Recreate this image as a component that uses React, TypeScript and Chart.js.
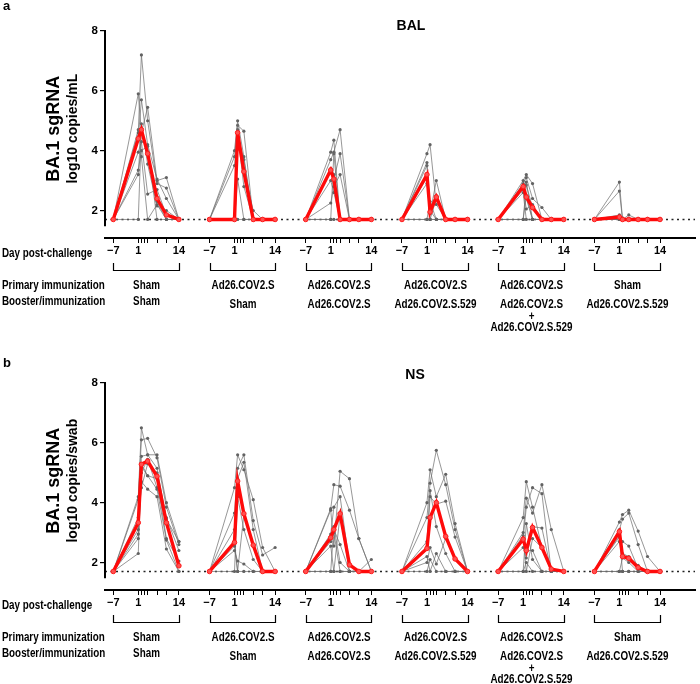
import React, { useEffect, useRef } from 'react';
import { Chart, registerables } from 'chart.js';

Chart.register(...registerables);

// ---------------- data ----------------
const SAMPLE_DAYS = [-7, 1, 2, 4, 7, 10, 14];
const AXIS_TICK_DAYS = [-7, 1, 2, 3, 4, 7, 10, 14];
const LABELED_TICK_DAYS = [-7, 1, 14];
const Y_TICKS = [2, 4, 6, 8];
const LOD = 1.7;

const PRIMARY = ['Sham', 'Ad26.COV2.S', 'Ad26.COV2.S', 'Ad26.COV2.S', 'Ad26.COV2.S', 'Sham'];
const BOOSTER = [
  ['Sham'],
  ['Sham'],
  ['Ad26.COV2.S'],
  ['Ad26.COV2.S.529'],
  ['Ad26.COV2.S', '+', 'Ad26.COV2.S.529'],
  ['Ad26.COV2.S.529'],
];

// BAL, log10 copies/mL, one row per animal at SAMPLE_DAYS
const BAL_SHAM_SHAM = [
  [1.7, 5.9, 4.6, 5.45, 3.0, 3.1, 1.7],
  [1.7, 4.6, 7.2, 5.0, 2.9, 2.75, 1.7],
  [1.7, 4.4, 5.7, 4.2, 3.05, 2.4, 1.7],
  [1.7, 3.2, 4.9, 3.55, 2.15, 2.0, 1.7],
  [1.7, 1.7, 4.65, 3.9, 2.3, 1.7, 1.7],
  [1.7, 3.95, 4.3, 2.55, 2.7, 1.85, 1.7],
  [1.7, 4.7, 3.8, 1.7, 2.2, 1.7, 1.7],
  [1.7, 3.35, 4.0, 4.15, 1.7, 1.7, 1.7],
];
const BAL_AD26_SHAM = [
  [1.7, 4.0, 5.0, 3.8, 1.7, 1.7, 1.7],
  [1.7, 3.8, 4.85, 4.65, 1.7, 1.7, 1.7],
  [1.7, 3.5, 4.7, 3.35, 2.0, 1.7, 1.7],
  [1.7, 1.7, 4.6, 2.8, 1.7, 1.7, 1.7],
  [1.7, 1.7, 4.4, 3.3, 1.7, 1.7, 1.7],
  [1.7, 1.7, 3.05, 1.7, 1.7, 1.7, 1.7],
  [1.7, 1.7, 4.5, 3.7, 1.7, 1.7, 1.7],
  [1.7, 1.7, 1.7, 1.7, 1.7, 1.7, 1.7],
];
const BAL_AD26_AD26 = [
  [1.7, 3.95, 4.35, 1.7, 1.7, 1.7, 1.7],
  [1.7, 3.7, 3.95, 4.7, 1.7, 1.7, 1.7],
  [1.7, 3.3, 3.05, 3.9, 1.7, 1.7, 1.7],
  [1.7, 2.25, 2.8, 3.2, 1.7, 1.7, 1.7],
  [1.7, 3.4, 3.2, 1.7, 1.7, 1.7, 1.7],
  [1.7, 1.7, 3.9, 1.7, 1.7, 1.7, 1.7],
  [1.7, 1.7, 1.7, 1.7, 1.7, 1.7, 1.7],
  [1.7, 3.0, 2.6, 1.7, 1.7, 1.7, 1.7],
];
const BAL_AD26_529 = [
  [1.7, 3.9, 4.2, 2.2, 1.7, 1.7, 1.7],
  [1.7, 3.6, 1.9, 3.0, 1.7, 1.7, 1.7],
  [1.7, 3.5, 2.1, 2.5, 1.7, 1.7, 1.7],
  [1.7, 3.2, 1.7, 1.7, 1.7, 1.7, 1.7],
  [1.7, 1.7, 2.3, 1.7, 1.7, 1.7, 1.7],
  [1.7, 3.1, 1.7, 2.4, 1.7, 1.7, 1.7],
  [1.7, 1.7, 1.7, 1.7, 1.7, 1.7, 1.7],
  [1.7, 2.9, 2.0, 1.7, 1.7, 1.7, 1.7],
];
const BAL_AD26_BIVALENT = [
  [1.7, 3.0, 3.2, 2.9, 1.7, 1.7, 1.7],
  [1.7, 2.9, 3.1, 2.4, 2.1, 1.7, 1.7],
  [1.7, 2.8, 2.95, 1.7, 1.7, 1.7, 1.7],
  [1.7, 2.7, 2.05, 2.2, 1.7, 1.7, 1.7],
  [1.7, 1.7, 2.5, 1.7, 1.7, 1.7, 1.7],
  [1.7, 2.6, 1.7, 1.7, 1.7, 1.7, 1.7],
  [1.7, 1.7, 2.85, 2.1, 1.7, 1.7, 1.7],
  [1.7, 2.75, 2.4, 1.7, 1.7, 1.7, 1.7],
];
const BAL_SHAM_529 = [
  [1.7, 2.95, 1.7, 1.7, 1.7, 1.7, 1.7],
  [1.7, 2.65, 1.7, 1.7, 1.7, 1.7, 1.7],
  [1.7, 1.85, 1.7, 1.85, 1.7, 1.7, 1.7],
  [1.7, 1.8, 1.75, 1.7, 1.7, 1.7, 1.7],
  [1.7, 1.7, 1.7, 1.7, 1.7, 1.7, 1.7],
  [1.7, 1.7, 1.7, 1.7, 1.7, 1.7, 1.7],
  [1.7, 1.7, 1.7, 1.7, 1.7, 1.7, 1.7],
  [1.7, 1.7, 1.7, 1.7, 1.7, 1.7, 1.7],
];
const BAL_MEDIANS = [
  [1.7, 4.4, 4.7, 3.9, 2.4, 1.85, 1.7],
  [1.7, 1.7, 4.6, 3.3, 1.7, 1.7, 1.7],
  [1.7, 3.35, 3.05, 1.7, 1.7, 1.7, 1.7],
  [1.7, 3.2, 1.95, 2.45, 1.7, 1.7, 1.7],
  [1.7, 2.8, 2.45, 2.1, 1.7, 1.7, 1.7],
  [1.7, 1.78, 1.7, 1.7, 1.7, 1.7, 1.7],
];

// NS, log10 copies/swab
const NS_SHAM_SHAM = [
  [1.7, 4.2, 6.5, 5.6, 5.6, 4.0, 2.7],
  [1.7, 4.1, 6.1, 6.15, 5.5, 3.85, 2.6],
  [1.7, 3.3, 5.55, 5.6, 5.15, 3.45, 2.7],
  [1.7, 3.1, 5.2, 4.9, 4.8, 2.8, 2.05],
  [1.7, 2.95, 5.0, 5.45, 4.5, 3.3, 1.9],
  [1.7, 2.8, 4.7, 4.45, 4.2, 2.45, 1.7],
  [1.7, 2.3, 5.3, 4.9, 4.45, 2.75, 1.7],
  [1.7, 3.5, 4.5, 5.3, 5.0, 3.5, 2.4],
];
const NS_AD26_SHAM = [
  [1.7, 4.5, 5.6, 5.1, 4.1, 2.5, 1.7],
  [1.7, 3.65, 5.15, 5.6, 3.4, 2.25, 2.5],
  [1.7, 3.1, 4.8, 5.35, 3.1, 1.7, 1.7],
  [1.7, 2.55, 1.7, 1.7, 1.7, 1.7, 1.7],
  [1.7, 2.65, 4.7, 3.6, 2.6, 1.7, 1.7],
  [1.7, 2.4, 2.05, 1.95, 1.7, 1.7, 1.7],
  [1.7, 1.7, 4.2, 3.1, 2.1, 1.7, 1.7],
  [1.7, 2.7, 1.7, 3.6, 2.55, 1.7, 1.7],
];
const NS_AD26_AD26 = [
  [1.7, 3.8, 4.6, 4.55, 3.75, 2.8, 1.7],
  [1.7, 3.75, 2.55, 5.05, 4.8, 2.8, 1.7],
  [1.7, 2.95, 3.85, 4.2, 1.95, 1.7, 2.1],
  [1.7, 2.7, 3.1, 2.6, 1.7, 1.7, 1.7],
  [1.7, 2.55, 1.7, 3.6, 1.7, 1.7, 1.7],
  [1.7, 1.7, 3.2, 2.0, 1.7, 1.7, 1.7],
  [1.7, 2.9, 3.0, 1.7, 1.7, 1.7, 1.7],
  [1.7, 1.7, 1.7, 1.7, 1.7, 1.7, 1.7],
];
const NS_AD26_529 = [
  [1.7, 4.0, 5.1, 4.2, 4.95, 3.3, 1.7],
  [1.7, 3.5, 4.65, 5.75, 4.6, 3.1, 1.7],
  [1.7, 2.5, 4.2, 3.95, 4.05, 2.85, 1.7],
  [1.7, 2.0, 2.5, 1.95, 2.8, 2.1, 1.7],
  [1.7, 2.45, 3.5, 4.0, 2.85, 2.1, 1.7],
  [1.7, 1.7, 2.1, 1.7, 1.7, 1.7, 1.7],
  [1.7, 2.7, 4.4, 3.2, 2.3, 1.7, 1.7],
  [1.7, 2.2, 1.7, 2.3, 1.7, 1.7, 1.7],
];
const NS_AD26_BIVALENT = [
  [1.7, 3.5, 4.7, 3.85, 2.5, 1.7, 1.7],
  [1.7, 3.0, 4.15, 3.65, 4.6, 3.1, 1.7],
  [1.7, 2.8, 3.85, 4.5, 4.3, 1.7, 1.7],
  [1.7, 2.5, 2.15, 3.2, 3.15, 1.7, 1.7],
  [1.7, 2.75, 2.4, 2.4, 1.7, 1.7, 1.7],
  [1.7, 1.7, 2.0, 1.7, 1.7, 1.7, 1.7],
  [1.7, 1.7, 3.3, 2.1, 1.7, 1.7, 1.7],
  [1.7, 2.9, 1.7, 2.8, 2.5, 1.8, 1.7],
];
const NS_SHAM_529 = [
  [1.7, 3.35, 3.6, 3.75, 3.05, 2.2, 1.7],
  [1.7, 3.1, 3.45, 3.65, 2.6, 1.7, 1.7],
  [1.7, 2.85, 2.7, 2.55, 1.8, 1.7, 1.7],
  [1.7, 3.0, 2.2, 2.1, 1.85, 1.7, 1.7],
  [1.7, 1.7, 2.15, 2.0, 1.7, 1.7, 1.7],
  [1.7, 2.9, 1.7, 1.7, 1.7, 1.7, 1.7],
  [1.7, 2.7, 2.3, 2.2, 1.9, 1.7, 1.7],
  [1.7, 1.7, 1.7, 1.7, 1.7, 1.7, 1.7],
];
const NS_MEDIANS = [
  [1.7, 3.33, 5.28, 5.39, 4.88, 3.33, 1.89],
  [1.7, 2.67, 4.72, 3.63, 2.58, 1.7, 1.7],
  [1.7, 2.83, 3.1, 3.63, 1.92, 1.7, 1.7],
  [1.7, 2.47, 3.5, 4.0, 2.87, 2.12, 1.7],
  [1.7, 2.78, 2.4, 3.17, 2.5, 1.78, 1.7],
  [1.7, 3.03, 2.2, 2.14, 1.83, 1.7, 1.7],
];

const BAL_GROUPS = [BAL_SHAM_SHAM, BAL_AD26_SHAM, BAL_AD26_AD26, BAL_AD26_529, BAL_AD26_BIVALENT, BAL_SHAM_529];
const NS_GROUPS = [NS_SHAM_SHAM, NS_AD26_SHAM, NS_AD26_AD26, NS_AD26_529, NS_AD26_BIVALENT, NS_SHAM_529];

// ---------------- layout ----------------
const GROUP_STEP = 30.8; // axis units between consecutive groups
const X_MIN = -9.65;
const X_MAX = 179.2;
const Y_MIN = 1.08;
const Y_MAX = 8;
const Y_AXIS_END = 1.47;
const AREA_LEFT = 105;
const AREA_RIGHT = 697;
const AREA_TOP = 31;
const AREA_BOTTOM = 238;

const SANS = '"Liberation Sans", Arial, Helvetica, sans-serif';
const NARROW_SCALE = 0.82;

const TICK_VALUES: number[] = [];
const TICK_LABELS: string[] = [];
PRIMARY.forEach((_, g) => {
  AXIS_TICK_DAYS.forEach((d) => {
    TICK_VALUES.push(g * GROUP_STEP + d);
    TICK_LABELS.push(LABELED_TICK_DAYS.includes(d) ? (d < 0 ? '\u2212' + Math.abs(d) : String(d)) : '');
  });
});

type PanelDef = {
  letter: string;
  letterY: number;
  title: string;
  titleX: number;
  titleY: number;
  yTitle: string[];
  groups: number[][][];
  medians: number[][];
  height: number;
};

const PANELS: PanelDef[] = [
  { letter: 'a', letterY: 6, title: 'BAL', titleX: 411, titleY: 26, yTitle: ['BA.1 sgRNA', 'log10 copies/mL'], groups: BAL_GROUPS, medians: BAL_MEDIANS, height: 352 },
  { letter: 'b', letterY: 11, title: 'NS', titleX: 415, titleY: 23, yTitle: ['BA.1 sgRNA', 'log10 copies/swab'], groups: NS_GROUPS, medians: NS_MEDIANS, height: 332 },
];

function buildDatasets(groups: number[][][], medians: number[][]) {
  const ds: any[] = [];
  groups.forEach((animals, g) => {
    animals.forEach((vals) => {
      ds.push({
        data: SAMPLE_DAYS.map((d, i) => ({ x: g * GROUP_STEP + d, y: vals[i] })),
        borderColor: 'rgba(110,110,110,0.9)',
        borderWidth: 0.8,
        pointRadius: 1.6,
        pointBackgroundColor: '#626262',
        pointBorderWidth: 0,
        order: 2,
      });
    });
    ds.push({
      data: SAMPLE_DAYS.map((d, i) => ({ x: g * GROUP_STEP + d, y: medians[g][i] })),
      borderColor: '#ff0a0a',
      borderWidth: 3.4,
      pointRadius: 2.3,
      pointBackgroundColor: '#ff5050',
      pointBorderColor: '#ff1a1a',
      pointBorderWidth: 1,
      order: 0,
    });
  });
  ds.push({
    data: [
      { x: X_MIN, y: LOD },
      { x: X_MAX, y: LOD },
    ],
    borderColor: '#222',
    borderWidth: 1.6,
    borderDash: [2, 3.5],
    pointRadius: 0,
    order: 3,
  });
  return ds;
}

function narrowText(ctx: CanvasRenderingContext2D, text: string, x: number, y: number, align: CanvasTextAlign) {
  ctx.save();
  ctx.translate(x, y);
  ctx.scale(NARROW_SCALE, 1);
  ctx.textAlign = align;
  ctx.fillText(text, 0, 0);
  ctx.restore();
}

function makeDecor(panel: PanelDef) {
  const ROW_DAY = 254;
  const B_TOP = 263;
  const B_BOT = 270;
  const ROW_PRIMARY = 286;
  const ROW_BOOSTER = 301.5;
  const LINE_STEP = 11.8;
  return {
    id: 'decor_' + panel.letter,
    afterDraw(chart: any) {
      const { ctx, chartArea } = chart;
      const xs = chart.scales.x;
      const ys = chart.scales.y;
      ctx.save();
      ctx.strokeStyle = '#000';
      ctx.fillStyle = '#000';
      // y axis line (stops above the x axis)
      ctx.lineWidth = 2;
      ctx.beginPath();
      ctx.moveTo(chartArea.left, ys.getPixelForValue(Y_MAX) - 1);
      ctx.lineTo(chartArea.left, ys.getPixelForValue(Y_AXIS_END));
      ctx.stroke();

      // panel letter
      ctx.font = `bold 13px ${SANS}`;
      ctx.textAlign = 'left';
      ctx.textBaseline = 'middle';
      ctx.fillText(panel.letter, 3, panel.letterY);

      // panel title
      ctx.font = `bold 14px ${SANS}`;
      ctx.textAlign = 'center';
      ctx.fillText(panel.title, panel.titleX, panel.titleY);

      // y title
      const midY = (ys.getPixelForValue(Y_MAX) + ys.getPixelForValue(Y_AXIS_END)) / 2;
      ctx.save();
      ctx.translate(54, midY);
      ctx.rotate(-Math.PI / 2);
      ctx.font = `bold 18px ${SANS}`;
      ctx.fillText(panel.yTitle[0], 0, 0);
      ctx.restore();
      ctx.save();
      ctx.translate(73, midY);
      ctx.rotate(-Math.PI / 2);
      ctx.font = `bold 14px ${SANS}`;
      ctx.fillText(panel.yTitle[1], 0, 0);
      ctx.restore();

      // bottom annotation
      ctx.font = `bold 12px ${SANS}`;
      narrowText(ctx, 'Day post-challenge', 2, ROW_DAY, 'left');
      narrowText(ctx, 'Primary immunization', 2, ROW_PRIMARY, 'left');
      narrowText(ctx, 'Booster/immunization', 2, ROW_BOOSTER, 'left');

      ctx.lineWidth = 1.2;
      PRIMARY.forEach((p, g) => {
        const x0 = Math.round(xs.getPixelForValue(g * GROUP_STEP - 7)) + 0.5;
        const x1 = Math.round(xs.getPixelForValue(g * GROUP_STEP + 14)) + 0.5;
        ctx.beginPath();
        ctx.moveTo(x0, B_TOP);
        ctx.lineTo(x0, B_BOT + 0.5);
        ctx.lineTo(x1, B_BOT + 0.5);
        ctx.lineTo(x1, B_TOP);
        ctx.stroke();
        const cx = (x0 + x1) / 2;
        narrowText(ctx, p, cx, ROW_PRIMARY, 'center');
        BOOSTER[g].forEach((line, k) => {
          narrowText(ctx, line, cx, ROW_BOOSTER + (g === 0 ? 0 : 3) + k * LINE_STEP, 'center');
        });
      });
      ctx.restore();
    },
  };
}

function Panel({ panel }: { panel: PanelDef }) {
  const ref = useRef<HTMLCanvasElement | null>(null);
  useEffect(() => {
    if (!ref.current) return;
    const h = panel.height;
    const chart = new Chart(ref.current, {
      type: 'line',
      data: { datasets: buildDatasets(panel.groups, panel.medians) },
      options: {
        animation: false,
        responsive: false,
        devicePixelRatio: 1,
        events: [],
        layout: { padding: { top: AREA_TOP, right: 700 - AREA_RIGHT, left: 0, bottom: 0 } },
        elements: { line: { tension: 0 } },
        plugins: { legend: { display: false }, title: { display: false }, tooltip: { enabled: false } },
        scales: {
          x: {
            type: 'linear',
            min: X_MIN,
            max: X_MAX,
            afterBuildTicks: (s: any) => {
              s.ticks = TICK_VALUES.map((v) => ({ value: v }));
            },
            afterFit: (s: any) => {
              s.height = h - AREA_BOTTOM;
            },
            ticks: {
              autoSkip: false,
              maxRotation: 0,
              minRotation: 0,
              padding: 1,
              color: '#000',
              font: { family: SANS, size: 11, weight: 'bold' },
              callback: (_v: any, i: number) => TICK_LABELS[i],
            },
            grid: { display: true, drawOnChartArea: false, drawTicks: true, tickLength: 5, color: '#000', lineWidth: 1 },
            border: { display: true, color: '#000', width: 2 },
          },
          y: {
            type: 'linear',
            min: Y_MIN,
            max: Y_MAX,
            afterBuildTicks: (s: any) => {
              s.ticks = Y_TICKS.map((v) => ({ value: v }));
            },
            afterFit: (s: any) => {
              s.width = AREA_LEFT;
            },
            ticks: { color: '#000', padding: 2, font: { family: SANS, size: 11.5, weight: 'bold' } },
            grid: { display: true, drawOnChartArea: false, drawTicks: true, tickLength: 5, color: '#000', lineWidth: 1.2 },
            border: { display: false },
          },
        },
      } as any,
      plugins: [makeDecor(panel)],
    });
    return () => chart.destroy();
  }, [panel]);
  return <canvas ref={ref} width={700} height={panel.height} style={{ display: 'block', width: 700, height: panel.height }} />;
}

export default function App() {
  return (
    <div style={{ position: 'absolute', left: 0, top: 0, width: 700, height: 684, background: '#fff', overflow: 'hidden' }}>
      {PANELS.map((p) => (
        <Panel key={p.letter} panel={p} />
      ))}
    </div>
  );
}
